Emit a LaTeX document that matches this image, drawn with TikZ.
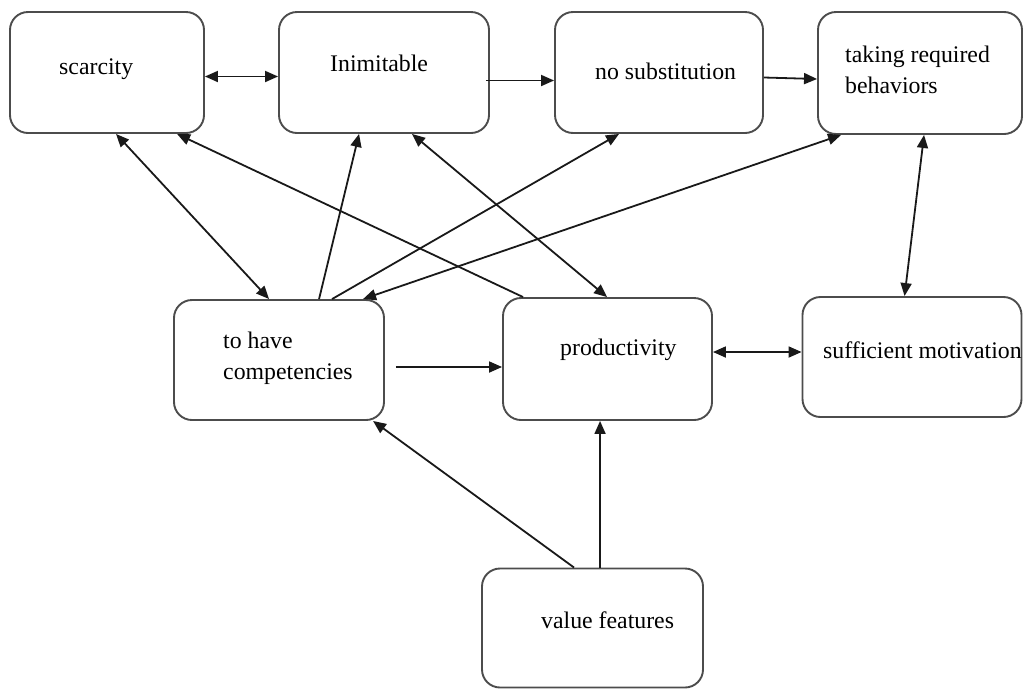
\documentclass[tikz,border=0pt]{standalone}
\usepackage{fontspec}
\setmainfont{Liberation Serif}
\usetikzlibrary{arrows.meta}
\tikzset{
  box/.style={draw=black!70, line width=1.9pt, rounded corners=18pt, inner sep=0pt},
  lbl/.style={inner sep=0pt, font=\fontsize{23.8}{31}\selectfont, text=black},
  tip/.tip={Triangle[length=13pt,width=11pt]},
  conn/.style={draw=black!90, line width=1.8pt, -tip},
  bconn/.style={draw=black!90, line width=1.8pt, tip-tip}
}
\begin{document}
\begin{tikzpicture}[x=1pt,y=-1pt]
\useasboundingbox (0,0) rectangle (1028,689);
% boxes
\node[box, minimum width=194pt, minimum height=121pt] (scar) at (107,72.5) {};
\node[box, minimum width=210pt, minimum height=121pt] (inim) at (384,72.5) {};
\node[box, minimum width=208pt, minimum height=121pt] (nosub) at (659,72.5) {};
\node[box, minimum width=204pt, minimum height=122pt] (take) at (920,73) {};
\node[box, minimum width=210pt, minimum height=120pt] (comp) at (279,360) {};
\node[box, minimum width=209pt, minimum height=122pt] (prod) at (607.5,359) {};
\node[box, minimum width=219pt, minimum height=120pt] (suff) at (912,357) {};
\node[box, minimum width=221pt, minimum height=119pt] (val) at (592.5,628) {};
% labels
\node[lbl, anchor=base west] (tscar) at (59,74) {scarcity};
\node[lbl, anchor=base west] (tinim) at (330,71) {Inimitable};
\node[lbl, anchor=base west] (tnosub) at (595,79) {no substitution};
\node[lbl, anchor=north west, align=left] (ttake) at (845,46) {taking required\\behaviors};
\node[lbl, anchor=north west, align=left] (tcomp) at (223,332) {to have\\competencies};
\node[lbl, anchor=base west] (tprod) at (560,355) {productivity};
\node[lbl, anchor=base west] (tsuff) at (823,358) {sufficient motivation};
\node[lbl, anchor=base west] (tval) at (541,628) {value features};
% connectors
\draw[bconn] ([yshift=-4pt]scar.east) -- ([yshift=-4pt]inim.west);
\draw[conn] ([xshift=-4pt,yshift=-8pt]inim.east) -- ([yshift=-8pt]nosub.west);
\draw[conn] ([yshift=-5pt]nosub.east) -- ([yshift=-6pt]take.west);
\draw[bconn] ([xshift=107pt]scar.south west) -- ([xshift=96pt]comp.north west);
\draw[conn] ([xshift=21pt]prod.north west) -- ([xshift=168pt]scar.south west);
\draw[conn] ([xshift=146pt]comp.north west) -- ([xshift=81pt]inim.south west);
\draw[conn] ([xshift=159pt]comp.north west) -- ([xshift=65pt]nosub.south west);
\draw[bconn] ([xshift=24pt]take.south west) -- ([xshift=190pt]comp.north west);
\draw[bconn] ([xshift=134pt]inim.south west) -- ([xshift=105pt]prod.north west);
\draw[bconn] ([xshift=107pt]take.south west) -- ([xshift=103pt]suff.north west);
\draw[conn] ([xshift=11pt,yshift=-7pt]comp.east) -- ([yshift=-8pt]prod.west);
\draw[bconn] ([yshift=7pt]prod.east) -- ([yshift=5pt]suff.west);
\draw[conn] ([xshift=93pt]val.north west) -- ([xshift=200pt]comp.south west);
\draw[conn] ([xshift=119pt]val.north west) -- ([xshift=98pt]prod.south west);
\end{tikzpicture}
\end{document}
